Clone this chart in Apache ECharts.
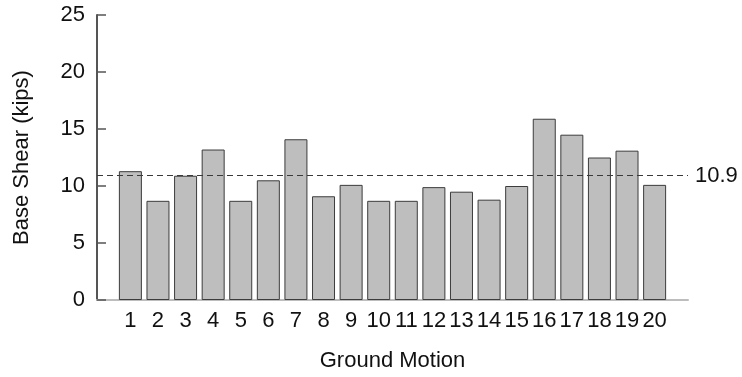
<!DOCTYPE html>
<html>
<head>
<meta charset="utf-8">
<script src="https://cdn.jsdelivr.net/npm/echarts@6/dist/echarts.min.js"></script>
<style>
html,body{margin:0;padding:0;background:#fff;}
#chart{width:742px;height:377px;}
</style>
</head>
<body>
<div id="chart"></div>
<script>
var categories = ['1','2','3','4','5','6','7','8','9','10','11','12','13','14','15','16','17','18','19','20'];
var baseShear = [11.3, 8.7, 10.9, 13.2, 8.7, 10.5, 14.1, 9.1, 10.1, 8.7, 8.7, 9.9, 9.5, 8.8, 10.0, 15.9, 14.5, 12.5, 13.1, 10.1];
var meanShear = 10.9;
var yTicks = [0, 5, 10, 15, 20, 25];
var xTitle = 'Ground Motion';
var yTitle = 'Base Shear (kips)';

var FONT = 'Liberation Sans, Arial, Helvetica, sans-serif';
var FS = 22;
var positions = categories.map(function (c, i) { return i + 1; });

var chart = echarts.init(document.getElementById('chart'), null, {renderer: 'canvas'});
chart.setOption({
  animation: false,
  backgroundColor: '#fff',
  grid: {left: 97, right: 54, top: 15, bottom: 77, containLabel: false},
  xAxis: {
    type: 'value',
    min: -0.21,
    max: 21.21,
    name: xTitle,
    nameLocation: 'middle',
    nameGap: 50,
    nameTextStyle: {fontFamily: FONT, fontSize: FS, color: '#111'},
    axisLine: {show: true, onZero: false, lineStyle: {color: '#bdbdbd', width: 2}},
    axisTick: {show: false},
    splitLine: {show: false},
    axisLabel: {
      customValues: positions,
      formatter: function (v) { return categories[Math.round(v) - 1] || ''; },
      margin: 10,
      fontFamily: FONT, fontSize: FS, color: '#111'
    }
  },
  yAxis: {
    type: 'value',
    min: yTicks[0],
    max: yTicks[yTicks.length - 1],
    interval: 5,
    name: yTitle,
    nameLocation: 'middle',
    nameGap: 64,
    nameTextStyle: {fontFamily: FONT, fontSize: FS, color: '#111'},
    axisLine: {show: true, onZero: false, lineStyle: {color: '#555', width: 2}},
    axisTick: {show: true, inside: true, length: 9, lineStyle: {color: '#555', width: 1.5}},
    splitLine: {show: false},
    axisLabel: {margin: 12, fontFamily: FONT, fontSize: FS, color: '#111'}
  },
  series: [{
    type: 'bar',
    data: baseShear.map(function (v, i) { return [positions[i], v]; }),
    barWidth: 23,
    itemStyle: {color: '#bebebe', borderColor: '#3c3c3c', borderWidth: 1},
    markLine: {
      silent: true,
      symbol: ['none', 'none'],
      lineStyle: {color: '#3a3a3a', width: 1.2, type: [6, 4]},
      label: {show: true, position: 'end', distance: 7, formatter: String(meanShear),
        fontFamily: FONT, fontSize: FS, color: '#111'},
      data: [{yAxis: meanShear}]
    }
  }]
});
</script>
</body>
</html>
